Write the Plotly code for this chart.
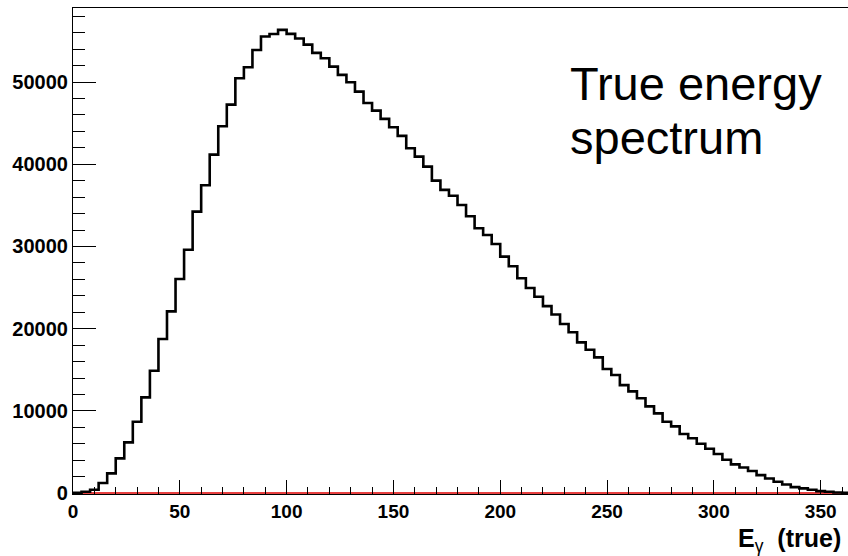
import plotly.graph_objects as go

# Histogram: true photon energy spectrum, bin width 4
bin_width = 4
counts = [
    50, 160, 400, 1220, 2400, 4220, 6170, 8680, 11650, 14890,
    18740, 22110, 26040, 29610, 34240, 37450, 41170, 44620, 47260, 50470,
    51800, 53900, 55550, 55850, 56350, 55860, 55300, 54560, 53550, 52900,
    51880, 50870, 49980, 48840, 47460, 46530, 45520, 44500, 43450, 41950,
    40930, 39710, 38010, 36880, 36180, 35050, 33670, 32210, 31400, 30300,
    28760, 27590, 26130, 24950, 23890, 22750, 21720, 20570, 19560, 18340,
    17440, 16510, 15090, 14360, 13140, 12380, 11530, 10550, 9700, 8680,
    8120, 7180, 6680, 6000, 5400, 4750, 4060, 3490, 3120, 2680,
    2190, 1780, 1380, 1050, 730, 570, 400, 240, 160, 80,
    40,
]
x_ticks = [0, 50, 100, 150, 200, 250, 300, 350]
y_ticks = [0, 10000, 20000, 30000, 40000, 50000]
x_range = [0, 362.8]
y_range = [-110, 59010]

edges = [i * bin_width for i in range(len(counts) + 1)]
step_y = counts + [counts[-1]]

W, H = 848, 556
L, R, T, B = 73, 0, 8, 62
pw, ph = W - L - R, H - T - B

def px_x(p):
    return (p - L) / pw

def px_y(p):
    return (H - B - p) / ph

font_family = "Liberation Sans, Arial, Helvetica, sans-serif"

fig = go.Figure()
fig.add_trace(go.Scatter(
    x=[x_range[0], x_range[1]], y=[0, 0], mode="lines",
    line=dict(color="#e00000", width=1.5), hoverinfo="skip", showlegend=False,
))
fig.add_trace(go.Scatter(
    x=edges, y=step_y, mode="lines", line_shape="hv",
    line=dict(color="black", width=2.6), showlegend=False,
))

fig.update_layout(
    width=W, height=H,
    margin=dict(l=L, r=R, t=T, b=B, pad=0),
    paper_bgcolor="white", plot_bgcolor="white",
    showlegend=False,
    xaxis=dict(
        range=x_range, tickvals=x_ticks, ticktext=[str(v) for v in x_ticks],
        ticks="inside", ticklen=14, tickwidth=1.2, tickcolor="black",
        minor=dict(dtick=10, tick0=0, ticks="inside", ticklen=7, tickwidth=1.2, tickcolor="black"),
        showline=True, linecolor="black", linewidth=1.2, mirror=True,
        showgrid=False, zeroline=False,
        tickfont=dict(family=font_family, size=19, color="black", weight=700),
    ),
    yaxis=dict(
        range=y_range, tickvals=y_ticks, ticktext=[str(v) for v in y_ticks],
        ticks="inside", ticklen=23, tickwidth=1.2, tickcolor="black",
        minor=dict(dtick=2000, tick0=0, ticks="inside", ticklen=12, tickwidth=1.2, tickcolor="black"),
        showline=True, linecolor="black", linewidth=1.2,
        showgrid=False, zeroline=False,
        tickfont=dict(family=font_family, size=20, color="black", weight=700),
    ),
    annotations=[
        dict(text="True energy", xref="paper", yref="paper",
             x=px_x(568), y=px_y(84), xanchor="left", yanchor="middle",
             showarrow=False, font=dict(family=font_family, size=47, color="black")),
        dict(text="spectrum", xref="paper", yref="paper",
             x=px_x(568), y=px_y(84 + 53.3), xanchor="left", yanchor="middle",
             showarrow=False, font=dict(family=font_family, size=47, color="black")),
        dict(text="<b>E</b><sub>γ</sub>\u00a0\u00a0<b>(true)</b>", xref="paper", yref="paper",
             x=px_x(843), y=px_y(540), xanchor="right", yanchor="middle",
             showarrow=False, font=dict(family=font_family, size=25, color="black")),
    ],
)

fig.write_html("out.html")
